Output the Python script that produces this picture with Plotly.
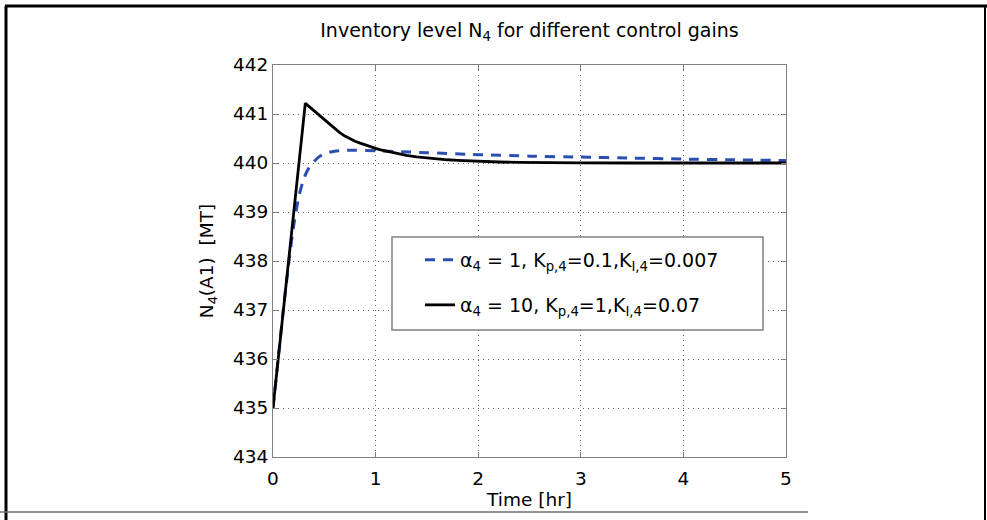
import plotly.graph_objects as go

# ---- data ----
t_a1 = [0, 0.05, 0.1, 0.15, 0.2, 0.25, 0.3, 0.35, 0.4, 0.45, 0.5, 0.6, 0.7, 0.8, 1.0,
        1.25, 1.5, 2.0, 2.5, 3.0, 3.5, 4.0, 4.5, 5.0]
n_a1 = [435.0, 436.0, 437.0, 437.9, 438.7, 439.3, 439.68, 439.9, 440.03, 440.13, 440.19,
        440.24, 440.26, 440.26, 440.25, 440.23, 440.21, 440.17, 440.14, 440.12, 440.10,
        440.08, 440.065, 440.05]

t_a10 = [0, 0.315, 0.35, 0.4, 0.45, 0.5, 0.55, 0.6, 0.65, 0.7, 0.75, 0.8, 0.85, 0.9, 0.95,
         1.0, 1.05, 1.1, 1.15, 1.2, 1.25, 1.3, 1.4, 1.5, 1.6, 1.7, 1.8, 1.9, 2.0, 2.2, 2.4,
         2.6, 2.8, 3.0, 3.5, 4.0, 5.0]
n_a10 = [435.0, 441.22, 441.155, 441.065, 440.97, 440.875, 440.785, 440.70, 440.62, 440.55,
         440.49, 440.445, 440.405, 440.365, 440.33, 440.30, 440.27, 440.245, 440.22, 440.195,
         440.175, 440.157, 440.127, 440.103, 440.083, 440.066, 440.053, 440.042, 440.033,
         440.02, 440.012, 440.007, 440.004, 440.002, 440.0, 440.0, 440.0]

x_ticks = [0, 1, 2, 3, 4, 5]
y_ticks = [434, 435, 436, 437, 438, 439, 440, 441, 442]

name_a1 = "α<sub>4</sub> = 1, K<sub>p,4</sub>=0.1,K<sub>I,4</sub>=0.007"
name_a10 = "α<sub>4</sub> = 10, K<sub>p,4</sub>=1,K<sub>I,4</sub>=0.07"

FONT = "DejaVu Sans"
W, H = 987, 520
L, R, T, B = 273, 786, 65, 457


def px(x):
    return (x - L) / (R - L)


def py(y):
    return (B - y) / (B - T)


fig = go.Figure()
fig.add_trace(go.Scatter(x=t_a1, y=n_a1, mode="lines", name=name_a1, legend="legend",
                         line=dict(color="#2b4fae", width=3, dash="10px,8px", shape="spline",
                                   smoothing=0.6)))
fig.add_trace(go.Scatter(x=t_a10, y=n_a10, mode="lines", name=name_a10, legend="legend2",
                         line=dict(color="black", width=2.8)))

axis_common = dict(
    showline=True, linecolor="#808080", linewidth=1, mirror="ticks",
    ticks="inside", ticklen=5, tickcolor="#808080", tickwidth=1,
    showgrid=True, gridcolor="#606060", griddash="1px,4px", gridwidth=1,
    zeroline=False, tickfont=dict(family=FONT, size=18.5, color="black"),
)

fig.update_xaxes(range=[0, 5], tickvals=x_ticks, ticktext=[str(v) for v in x_ticks],
                 ticklabelstandoff=5,
                 title=dict(text="Time [hr]", font=dict(family=FONT, size=18.5, color="black"),
                            standoff=4),
                 **axis_common)
fig.update_yaxes(range=[434, 442], tickvals=y_ticks, ticktext=[str(v) for v in y_ticks],
                 title=dict(text="N<sub>4</sub>(A1)\u00a0 [MT]",
                            font=dict(family=FONT, size=18.5, color="black"), standoff=14),
                 **axis_common)

legend_common = dict(bgcolor="rgba(0,0,0,0)", borderwidth=0,
                     font=dict(family=FONT, size=19, color="black"),
                     xanchor="left", yanchor="middle", x=px(420))

shapes = [
    # legend box
    dict(type="rect", xref="paper", yref="paper", x0=px(392), x1=px(763), y0=py(330), y1=py(237),
         line=dict(color="#808080", width=1.5), fillcolor="white", layer="above"),
    # image frame
    dict(type="line", xref="paper", yref="paper", x0=px(6), x1=px(6), y0=py(6), y1=py(520),
         line=dict(color="black", width=3)),
    dict(type="line", xref="paper", yref="paper", x0=px(5), x1=px(987), y0=py(6), y1=py(6),
         line=dict(color="black", width=3)),
    dict(type="line", xref="paper", yref="paper", x0=px(985), x1=px(985), y0=py(6), y1=py(520),
         line=dict(color="black", width=2)),
    dict(type="line", xref="paper", yref="paper", x0=px(0), x1=px(808), y0=py(512), y1=py(512),
         line=dict(color="#707070", width=1.5)),
]

fig.update_layout(
    width=W, height=H,
    margin=dict(l=L, r=W - R, t=T, b=H - B, autoexpand=False),
    paper_bgcolor="white", plot_bgcolor="white",
    title=dict(text="Inventory level N<sub>4</sub> for different control gains",
               font=dict(family=FONT, size=19, color="black"),
               x=0.5, xref="paper", xanchor="center", y=1 - 30 / H, yref="container",
               yanchor="middle"),
    showlegend=True,
    legend=dict(y=py(260), **legend_common),
    legend2=dict(y=py(305), **legend_common),
    shapes=shapes,
)

fig.write_html("out.html")
